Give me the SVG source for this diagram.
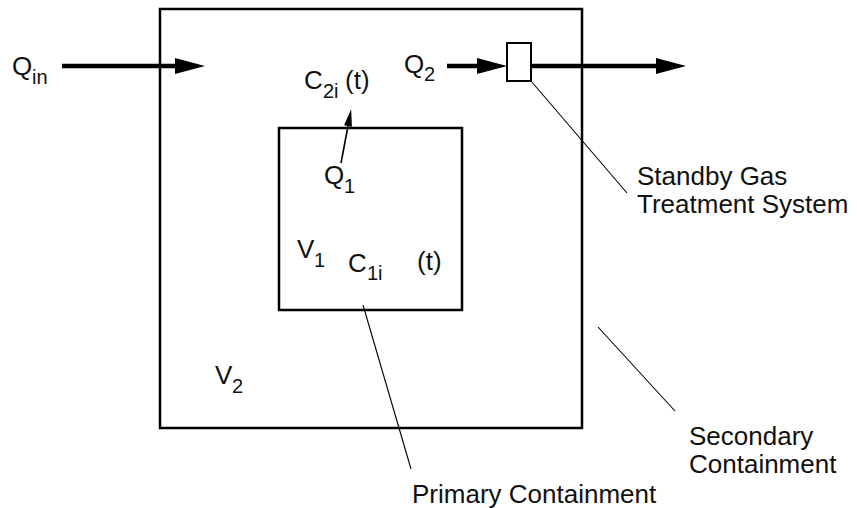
<svg xmlns="http://www.w3.org/2000/svg" width="857" height="508" viewBox="0 0 857 508">
<style>
text{font-family:"Liberation Sans",Arial,Helvetica,sans-serif;fill:#111;}
.m{font-size:26px;}
.s{font-size:20px;}
.lbl{font-size:26px;}
.box{fill:none;stroke:#000;stroke-width:2.5;}
.flow{stroke:#000;stroke-width:4.5;fill:none;}
.lead{stroke:#000;stroke-width:1.1;fill:none;}
</style>
<defs>
<marker id="bigHead" markerUnits="userSpaceOnUse" markerWidth="31" markerHeight="17" refX="0" refY="8" orient="auto" overflow="visible">
<path d="M0,0 L30,8 L0,16 Z" fill="#000"/>
</marker>
<marker id="smallHead" markerUnits="userSpaceOnUse" markerWidth="17" markerHeight="9" refX="0" refY="4" orient="auto" overflow="visible">
<path d="M0,0 L17,4 L0,8 Z" fill="#000"/>
</marker>
</defs>
<g id="secondary-containment">
<rect class="box" x="160" y="9" width="422" height="419"/>
</g>
<g id="primary-containment">
<rect class="box" x="279" y="128" width="183" height="182"/>
</g>
<g id="sgts">
<rect x="507" y="43" width="24" height="38" fill="#fff" stroke="#000" stroke-width="2"/>
</g>
<g id="connectors">
<line class="flow" x1="62" y1="66" x2="175" y2="66" marker-end="url(#bigHead)"/>
<line class="flow" x1="447" y1="66" x2="477" y2="66" marker-end="url(#bigHead)"/>
<line class="flow" x1="531" y1="66" x2="656" y2="66" marker-end="url(#bigHead)"/>
<line x1="341" y1="163" x2="348" y2="126" stroke="#000" stroke-width="1.6" marker-end="url(#smallHead)"/>
<line class="lead" x1="531" y1="81" x2="627" y2="193"/>
<line class="lead" x1="598" y1="327" x2="675" y2="411"/>
<line class="lead" x1="363" y1="305" x2="411" y2="469"/>
</g>
<g id="labels">
<text class="m" x="12" y="75">Q<tspan class="s" x="32" y="84">in</tspan></text>
<text class="m" x="404" y="73">Q<tspan class="s" x="424" y="81">2</tspan></text>
<text class="m" x="304" y="89">C<tspan class="s" x="323" y="98">2i</tspan><tspan x="345" y="89">(t)</tspan></text>
<text class="m" x="324" y="184">Q<tspan class="s" x="344" y="193">1</tspan></text>
<text class="m" x="297" y="258">V<tspan class="s" x="314" y="267">1</tspan></text>
<text class="m" x="348" y="272">C<tspan class="s" x="367" y="280">1i</tspan></text>
<text class="m" x="417" y="270">(t)</text>
<text class="m" x="215" y="384">V<tspan class="s" x="232" y="393">2</tspan></text>
<text class="lbl" x="637" y="185">Standby Gas</text>
<text class="lbl" x="637" y="213">Treatment System</text>
<text class="lbl" x="689" y="445">Secondary</text>
<text class="lbl" x="689" y="473">Containment</text>
<text class="lbl" x="412" y="503">Primary Containment</text>
</g>
</svg>
